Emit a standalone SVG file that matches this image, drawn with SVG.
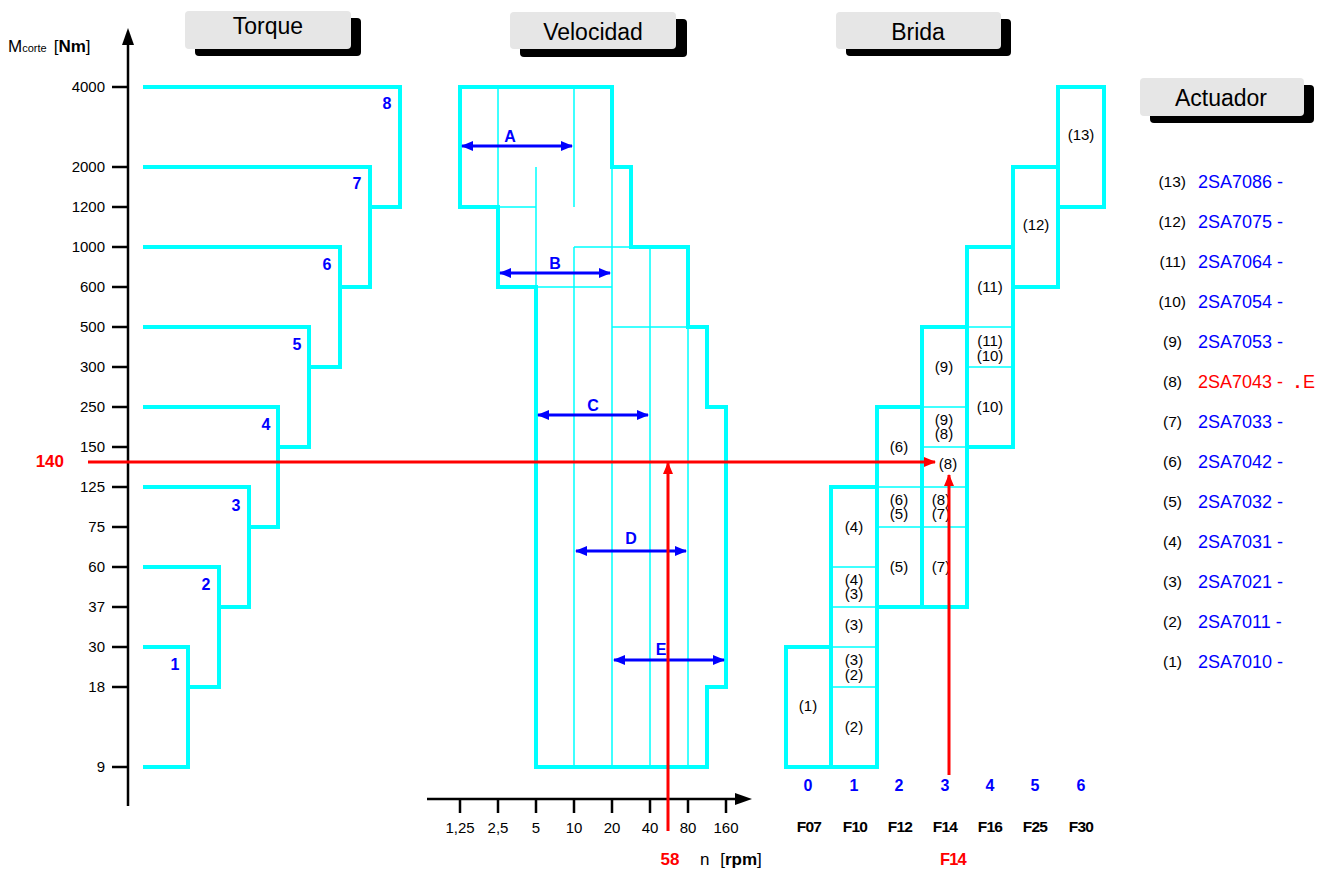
<svg xmlns="http://www.w3.org/2000/svg" width="1328" height="871" viewBox="0 0 1328 871">
<style>
text{font-family:"Liberation Sans",Arial,sans-serif;}
.hdr{font-size:23px;fill:#000;text-anchor:middle;}
.tick{font-size:15px;fill:#000;text-anchor:end;}
.xt{font-size:15px;fill:#000;text-anchor:middle;}
.num{font-size:16px;font-weight:bold;fill:#0000ff;text-anchor:middle;}
.lbl{font-size:16px;font-weight:bold;fill:#0000ff;text-anchor:middle;}
.br{font-size:15px;fill:#000;text-anchor:middle;}
.fl{font-size:15.5px;font-weight:bold;fill:#000;text-anchor:middle;letter-spacing:-0.8px;}
.red{fill:#ff0000;font-weight:bold;}
.par{font-size:15.5px;fill:#000;text-anchor:end;}
.code{font-size:18px;fill:#0000ff;}
.thick{fill:none;stroke:#00ffff;stroke-width:4;}
.thin{fill:none;stroke:#00ffff;stroke-width:1.5;}
.axis{fill:none;stroke:#000;stroke-width:2.5;}
.barr{stroke:#0000ff;stroke-width:3;marker-start:url(#bh);marker-end:url(#bh);}
.rline{stroke:#ff0000;stroke-width:3;fill:none;marker-end:url(#rh);}
.shadow{fill:#000;}
.plate{fill:#e6e6e6;}
</style>
<defs>
<marker id="bh" viewBox="0 0 12 10" refX="11" refY="5" markerWidth="12" markerHeight="10" markerUnits="userSpaceOnUse" orient="auto-start-reverse"><path d="M0,0 L12,5 L0,10 z" fill="#0000ff"/></marker>
<marker id="rh" viewBox="0 0 12 10" refX="11" refY="5" markerWidth="12" markerHeight="10" markerUnits="userSpaceOnUse" orient="auto"><path d="M0,0 L12,5 L0,10 z" fill="#ff0000"/></marker>
</defs>
<rect width="1328" height="871" fill="#fff"/>

<g id="header-torque">
<rect class="shadow" x="195" y="18" width="166" height="38" rx="4"/>
<rect class="plate" x="185" y="11" width="166" height="38" rx="4"/>
<text class="hdr" x="268" y="34">Torque</text>
</g>
<g id="header-velocidad">
<rect class="shadow" x="520" y="19" width="167" height="38" rx="4"/>
<rect class="plate" x="510" y="12" width="166" height="37" rx="4"/>
<text class="hdr" x="593" y="40">Velocidad</text>
</g>
<g id="header-brida">
<rect class="shadow" x="846" y="19" width="165" height="37" rx="4"/>
<rect class="plate" x="836" y="12" width="165" height="37" rx="4"/>
<text class="hdr" x="918" y="40">Brida</text>
</g>
<g id="header-actuador">
<rect class="shadow" x="1150" y="85" width="164" height="38" rx="4"/>
<rect class="plate" x="1140" y="78" width="164" height="38" rx="4"/>
<text class="hdr" x="1221" y="106">Actuador</text>
</g>

<g id="torque-axis">
<line class="axis" x1="128" y1="42" x2="128" y2="806" stroke-width="3"/>
<path d="M128,28 L134,45 L122,45 z" fill="#000"/>
<text x="8" y="52" style="font-size:17px"><tspan>M</tspan><tspan style="font-size:11px">corte</tspan><tspan dx="7">[</tspan><tspan font-weight="bold">Nm</tspan><tspan>]</tspan></text>
<path class="axis" d="M112,87H128M112,167H128M112,207H128M112,247H128M112,287H128M112,327H128M112,367H128M112,407H128M112,447H128M112,487H128M112,527H128M112,567H128M112,607H128M112,647H128M112,687H128M112,767H128"/>
<text class="tick" x="105" y="92">4000</text>
<text class="tick" x="105" y="172">2000</text>
<text class="tick" x="105" y="212">1200</text>
<text class="tick" x="105" y="252">1000</text>
<text class="tick" x="105" y="292">600</text>
<text class="tick" x="105" y="332">500</text>
<text class="tick" x="105" y="372">300</text>
<text class="tick" x="105" y="412">250</text>
<text class="tick" x="105" y="452">150</text>
<text class="tick" x="105" y="492">125</text>
<text class="tick" x="105" y="532">75</text>
<text class="tick" x="105" y="572">60</text>
<text class="tick" x="105" y="612">37</text>
<text class="tick" x="105" y="652">30</text>
<text class="tick" x="105" y="692">18</text>
<text class="tick" x="105" y="772">9</text>
</g>

<g id="torque-8"><path class="thick" d="M143,87H400V207H370"/><text class="num" x="387" y="109">8</text></g>
<g id="torque-7"><path class="thick" d="M143,167H370V287H340"/><text class="num" x="357" y="189">7</text></g>
<g id="torque-6"><path class="thick" d="M143,247H340V367H309"/><text class="num" x="327" y="270">6</text></g>
<g id="torque-5"><path class="thick" d="M143,327H309V447H278"/><text class="num" x="297" y="350">5</text></g>
<g id="torque-4"><path class="thick" d="M143,407H278V527H249"/><text class="num" x="266" y="430">4</text></g>
<g id="torque-3"><path class="thick" d="M143,487H249V607H219"/><text class="num" x="236" y="511">3</text></g>
<g id="torque-2"><path class="thick" d="M143,567H219V687H188"/><text class="num" x="206" y="590">2</text></g>
<g id="torque-1"><path class="thick" d="M143,647H188V767H143"/><text class="num" x="175" y="670">1</text></g>

<g id="velocity-chart">
<path class="thin" d="M498,87V207M574,87V207M536,167V287M498,207H536M574,247V767M612,167V767M650,247V767M688,327V767M574,247H631M536,287H612M612,327H688"/>
<path class="thick" d="M460,87H612V167H631V247H688V327H707V407H726V687H707V767H536V287H498V207H460Z"/>
</g>
<g id="range-A"><line class="barr" x1="462" y1="146" x2="572" y2="146"/><text class="lbl" x="510" y="142">A</text></g>
<g id="range-B"><line class="barr" x1="500" y1="273" x2="610" y2="273"/><text class="lbl" x="555" y="269">B</text></g>
<g id="range-C"><line class="barr" x1="538" y1="415" x2="648" y2="415"/><text class="lbl" x="593" y="411">C</text></g>
<g id="range-D"><line class="barr" x1="576" y1="551" x2="686" y2="551"/><text class="lbl" x="631" y="544">D</text></g>
<g id="range-E"><line class="barr" x1="614" y1="660" x2="724" y2="660"/><text class="lbl" x="661" y="655">E</text></g>

<g id="speed-axis">
<line class="axis" x1="427" y1="799" x2="738" y2="799"/>
<path d="M752,799 L735,793 L735,805 z" fill="#000"/>
<path class="axis" d="M460,799V813M498,799V813M536,799V813M574,799V813M612,799V813M650,799V813M688,799V813M726,799V813"/>
<text class="xt" x="460" y="833">1,25</text>
<text class="xt" x="498" y="833">2,5</text>
<text class="xt" x="536" y="833">5</text>
<text class="xt" x="574" y="833">10</text>
<text class="xt" x="612" y="833">20</text>
<text class="xt" x="650" y="833">40</text>
<text class="xt" x="688" y="833">80</text>
<text class="xt" x="726" y="833">160</text>
<text x="700" y="865" style="font-size:17px">n <tspan dx="6">[</tspan><tspan font-weight="bold">rpm</tspan>]</text>
</g>

<g id="brida-0"><rect class="thick" x="786" y="647" width="45" height="120"/><text class="br" x="808" y="711">(1)</text></g>
<g id="brida-1">
<path class="thin" d="M831,567H877M831,607H877M831,647H877M831,687H877"/>
<rect class="thick" x="831" y="487" width="46" height="280"/>
<text class="br" x="854" y="532">(4)</text>
<text class="br" x="854" y="585">(4)</text><text class="br" x="854" y="599">(3)</text>
<text class="br" x="854" y="630">(3)</text>
<text class="br" x="854" y="665">(3)</text><text class="br" x="854" y="680">(2)</text>
<text class="br" x="854" y="732">(2)</text>
</g>
<g id="brida-2">
<path class="thin" d="M877,487H922M877,527H922"/>
<rect class="thick" x="877" y="407" width="45" height="200"/>
<text class="br" x="899" y="452">(6)</text>
<text class="br" x="899" y="505">(6)</text><text class="br" x="899" y="519">(5)</text>
<text class="br" x="899" y="572">(5)</text>
</g>
<g id="brida-3">
<path class="thin" d="M922,407H967M922,447H967M922,487H967M922,527H967"/>
<rect class="thick" x="922" y="327" width="45" height="280"/>
<text class="br" x="944" y="372">(9)</text>
<text class="br" x="944" y="425">(9)</text><text class="br" x="944" y="439">(8)</text>
<text class="br" x="948" y="469">(8)</text>
<text class="br" x="941" y="505">(8)</text><text class="br" x="941" y="519">(7)</text>
<text class="br" x="941" y="572">(7)</text>
</g>
<g id="brida-4">
<path class="thin" d="M967,327H1013M967,367H1013"/>
<rect class="thick" x="967" y="247" width="46" height="200"/>
<text class="br" x="990" y="292">(11)</text>
<text class="br" x="990" y="346">(11)</text><text class="br" x="990" y="361">(10)</text>
<text class="br" x="990" y="412">(10)</text>
</g>
<g id="brida-5"><rect class="thick" x="1013" y="167" width="45" height="120"/><text class="br" x="1036" y="230">(12)</text></g>
<g id="brida-6"><rect class="thick" x="1058" y="87" width="46" height="120"/><text class="br" x="1081" y="140">(13)</text></g>

<g id="brida-axis">
<text class="num" x="808" y="791">0</text>
<text class="num" x="854" y="791">1</text>
<text class="num" x="899" y="791">2</text>
<text class="num" x="945" y="791">3</text>
<text class="num" x="990" y="791">4</text>
<text class="num" x="1035" y="791">5</text>
<text class="num" x="1081" y="791">6</text>
<text class="fl" x="809" y="832">F07</text>
<text class="fl" x="855" y="832">F10</text>
<text class="fl" x="900" y="832">F12</text>
<text class="fl" x="945" y="832">F14</text>
<text class="fl" x="990" y="832">F16</text>
<text class="fl" x="1035" y="832">F25</text>
<text class="fl" x="1081" y="832">F30</text>
</g>

<g id="actuator-list">
<text class="par" x="1186" y="187">(13)</text><text class="code" x="1198" y="188">2SA7086 -</text>
<text class="par" x="1186" y="227">(12)</text><text class="code" x="1198" y="228">2SA7075 -</text>
<text class="par" x="1186" y="267">(11)</text><text class="code" x="1198" y="268">2SA7064 -</text>
<text class="par" x="1186" y="307">(10)</text><text class="code" x="1198" y="308">2SA7054 -</text>
<text class="par" x="1182" y="347">(9)</text><text class="code" x="1198" y="348">2SA7053 -</text>
<text class="par" x="1182" y="387">(8)</text><text class="code" x="1198" y="388" style="fill:#ff0000">2SA7043 -<tspan x="1295" font-weight="bold">.</tspan><tspan x="1303">E</tspan></text>
<text class="par" x="1182" y="427">(7)</text><text class="code" x="1198" y="428">2SA7033 -</text>
<text class="par" x="1182" y="467">(6)</text><text class="code" x="1198" y="468">2SA7042 -</text>
<text class="par" x="1182" y="507">(5)</text><text class="code" x="1198" y="508">2SA7032 -</text>
<text class="par" x="1182" y="547">(4)</text><text class="code" x="1198" y="548">2SA7031 -</text>
<text class="par" x="1182" y="587">(3)</text><text class="code" x="1198" y="588">2SA7021 -</text>
<text class="par" x="1182" y="627">(2)</text><text class="code" x="1198" y="628">2SA7011 -</text>
<text class="par" x="1182" y="667">(1)</text><text class="code" x="1198" y="668">2SA7010 -</text>
</g>

<g id="connectors">
<line class="rline" x1="88" y1="462" x2="935" y2="462"/>
<line class="rline" x1="668" y1="831" x2="668" y2="463"/>
<line class="rline" x1="949" y1="775" x2="949" y2="475"/>
<text class="red" x="64" y="467" text-anchor="end" style="font-size:17px">140</text>
<text class="red" x="670" y="865" text-anchor="middle" style="font-size:17px">58</text>
<text class="red" x="953" y="865" text-anchor="middle" style="font-size:16.5px;letter-spacing:-0.8px">F14</text>
</g>
</svg>
